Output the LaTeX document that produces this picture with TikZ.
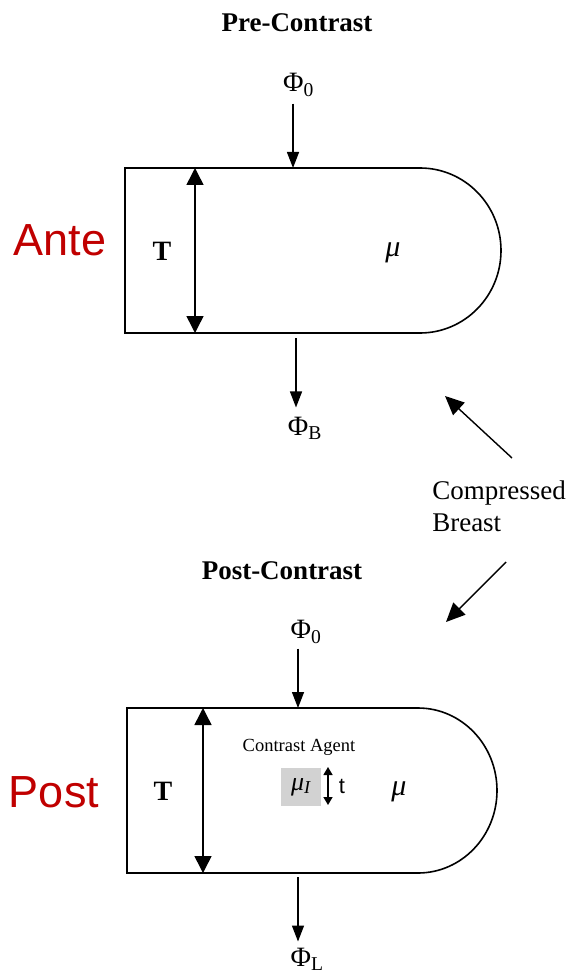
\documentclass[tikz,border=0pt]{standalone}
\usepackage{fontspec}
\setmainfont{Liberation Serif}
\newfontfamily\arialfont{Liberation Sans}
\usetikzlibrary{arrows.meta}
\definecolor{antered}{HTML}{C00000}
\definecolor{agentgray}{HTML}{D2D2D2}
\begin{document}
\begin{tikzpicture}[x=1pt,y=-1pt,
  outline/.style={line width=1.6pt},
  bigdim/.style={line width=1.5pt, {Triangle[length=17pt,width=17pt]}-{Triangle[length=17pt,width=17pt]}},
  smalldim/.style={line width=1.4pt, {Triangle[length=8pt,width=9pt]}-{Triangle[length=8pt,width=9pt]}},
  flux/.style={line width=1.4pt, -{Triangle[length=16pt,width=12pt]}},
  pointer/.style={line width=1.4pt, -{Triangle[length=19pt,width=17pt]}},
  title/.style={font=\fontsize{27}{30}\selectfont\bfseries, inner sep=0pt},
  sym/.style={font=\fontsize{28}{30}\selectfont, inner sep=0pt},
  tlabel/.style={font=\fontsize{28}{30}\selectfont\bfseries, inner sep=0pt},
  mulabel/.style={font=\fontsize{30}{32}\selectfont\itshape, inner sep=0pt},
  side/.style={font=\arialfont\fontsize{45}{50}\selectfont, text=antered, inner sep=0pt},
]
\useasboundingbox (0,0) rectangle (570,976);

% ---------- Pre-Contrast ----------
\node[title] (pretitle) at (297,23) {Pre-Contrast};
\node[sym] (phi0a) at (298.5,85) {Φ\textsubscript{0}};
\draw[outline] (125,168) -- (420,168)
  arc[start angle=-90,end angle=90,x radius=81,y radius=82.5] -- (125,333) -- cycle;
\coordinate (inA) at (293,168);
\coordinate (outA) at (296,333);
\coordinate (tAtop) at (195,168);
\coordinate (tAbot) at (195,333);
\draw[bigdim] (tAtop) -- (tAbot);
\node[tlabel] (TA) at (162,251) {T};
\node[mulabel] (muA) at (393,253) {μ};
\node[side] (ante) at (60,240) {Ante};
\draw[flux, shorten <=7pt] (phi0a.south -| inA) -- (inA);
\node[sym] (phiB) at (305,428) {Φ\textsubscript{B}};
\draw[flux, shorten <=5pt, shorten >=9pt] (outA) -- (phiB.north -| outA);

% ---------- Compressed Breast ----------
\node[sym, align=left, font=\fontsize{27}{32}\selectfont] (cb) at (499,506) {Compressed\\Breast};
\coordinate (cbUtail) at (512,458);
\coordinate (cbUtip) at (445,396);
\coordinate (cbDtail) at (506,562);
\coordinate (cbDtip) at (446,622);
\draw[pointer] (cbUtail) -- (cbUtip);
\draw[pointer] (cbDtail) -- (cbDtip);

% ---------- Post-Contrast ----------
\node[title] (posttitle) at (282,571) {Post-Contrast};
\node[sym] (phi0b) at (306,632) {Φ\textsubscript{0}};
\draw[outline] (127,708) -- (418,708)
  arc[start angle=-90,end angle=90,x radius=79,y radius=82.5] -- (127,873) -- cycle;
\coordinate (inB) at (298,708);
\coordinate (outB) at (298,873);
\coordinate (tBtop) at (203,708);
\coordinate (tBbot) at (203,873);
\draw[bigdim] (tBtop) -- (tBbot);
\node[tlabel] (TB) at (163,791) {T};
\node[mulabel] (muB) at (399,792) {μ};
\node[side] (post) at (54,792) {Post};
\draw[flux, shorten <=5pt] (phi0b.south -| inB) -- (inB);
\node[sym] (phiL) at (307,959) {Φ\textsubscript{L}};
\draw[flux, shorten <=4pt, shorten >=6pt] (outB) -- (phiL.north -| outB);

% contrast agent
\node[font=\fontsize{18.5}{20}\selectfont, inner sep=0pt] (agentlabel) at (299,747) {Contrast Agent};
\node[fill=agentgray, minimum width=40pt, minimum height=38pt, inner sep=0pt,
      font=\fontsize{26}{28}\selectfont\itshape] (agent) at (301,787) {μ\textsubscript{I}};
\coordinate (ttop) at (328,767);
\coordinate (tbot) at (328,805);
\draw[smalldim] (ttop) -- (tbot);
\node[font=\arialfont\fontsize{22}{24}\selectfont, inner sep=0pt] (tsmall) at (342,786) {t};
\end{tikzpicture}
\end{document}
